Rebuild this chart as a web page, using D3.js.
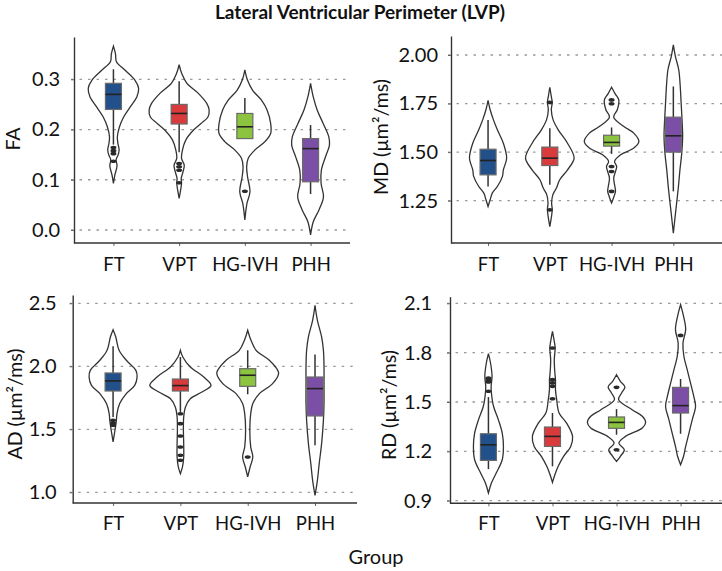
<!DOCTYPE html>
<html><head><meta charset="utf-8">
<script src="https://cdn.jsdelivr.net/npm/d3@7"></script>
<style>
body{margin:0;background:#fff;}
svg text{font-family:Lato,'Open Sans',sans-serif;fill:#111;}
</style></head>
<body><svg id="c" width="722" height="571"></svg>
<script>
// ---------- DATA ----------
const groups = ["FT", "VPT", "HG-IVH", "PHH"];
const groupColors = ["#22508a", "#d93b3d", "#8cc43f", "#7c4fa6"];

const faTicks = [0.0, 0.1, 0.2, 0.3];
const mdTicks = [1.25, 1.50, 1.75, 2.00];
const adTicks = [1.0, 1.5, 2.0, 2.5];
const rdTicks = [0.9, 1.2, 1.5, 1.8, 2.1];

// box stats: [lower whisker, q1, median, q3, upper whisker]
const faBoxes = [[0.170, 0.240, 0.270, 0.292, 0.320], [0.155, 0.211, 0.232, 0.250, 0.296], [0.181, 0.182, 0.2055, 0.232, 0.263], [0.0716, 0.096, 0.162, 0.182, 0.209]];
const mdBoxes = [[1.323, 1.383, 1.457, 1.515, 1.666], [1.332, 1.431, 1.469, 1.526, 1.623], [1.491, 1.531, 1.550, 1.587, 1.627], [1.298, 1.500, 1.584, 1.680, 1.838]];
const adBoxes = [[1.598, 1.804, 1.884, 1.947, 2.159], [1.638, 1.804, 1.847, 1.899, 2.074], [1.778, 1.841, 1.929, 1.981, 2.127], [1.373, 1.606, 1.823, 1.915, 2.093]];
const rdBoxes = [[1.092, 1.145, 1.240, 1.307, 1.530], [1.109, 1.230, 1.291, 1.348, 1.433], [1.301, 1.340, 1.376, 1.409, 1.457], [1.307, 1.433, 1.478, 1.589, 1.640]];

const faOutliers = [[0.164, 0.158, 0.152, 0.137], [0.1325, 0.126, 0.119, 0.094], [0.077], []];
const mdOutliers = [[], [1.756, 1.203], [1.769, 1.749, 1.426, 1.400, 1.298], []];
const adOutliers = [[1.571, 1.550, 1.532], [1.624, 1.545, 1.447, 1.360, 1.294, 1.254], [1.280], []];
const rdOutliers = [[1.565, 1.622, 1.636, 1.645], [1.828, 1.636, 1.616, 1.595, 1.520], [1.589, 1.210], [1.905]];

// violin profiles: [value, relative density]
const faViolins = [
  [[0.093,0],[0.11,0.05],[0.128,0.12],[0.14,0.09],[0.15,0.16],[0.16,0.19],[0.172,0.15],[0.185,0.13],[0.205,0.20],[0.225,0.34],[0.245,0.56],[0.265,0.78],[0.282,0.84],[0.298,0.72],[0.318,0.39],[0.335,0.10],[0.35,0.07],[0.366,0]],
  [[0.063,0],[0.08,0.05],[0.093,0.08],[0.103,0.07],[0.116,0.13],[0.129,0.17],[0.1425,0.08],[0.159,0.11],[0.179,0.22],[0.199,0.48],[0.212,0.73],[0.225,0.96],[0.239,1.00],[0.252,0.92],[0.272,0.64],[0.292,0.26],[0.311,0.09],[0.329,0]],
  [[0.020,0],[0.053,0.07],[0.076,0.17],[0.106,0.09],[0.126,0.06],[0.1425,0.11],[0.159,0.33],[0.176,0.67],[0.192,0.86],[0.212,0.86],[0.239,0.74],[0.258,0.56],[0.278,0.26],[0.298,0.09],[0.319,0]],
  [[-0.01,0],[0.0165,0.09],[0.040,0.28],[0.066,0.43],[0.093,0.35],[0.119,0.36],[0.146,0.50],[0.169,0.63],[0.185,0.61],[0.212,0.42],[0.239,0.22],[0.265,0.09],[0.292,0]]
];
const mdViolins = [
  [[1.22,0],[1.255,0.07],[1.289,0.14],[1.323,0.31],[1.375,0.48],[1.409,0.51],[1.469,0.62],[1.546,0.51],[1.615,0.31],[1.666,0.18],[1.718,0.07],[1.766,0]],
  [[1.117,0],[1.203,0.08],[1.238,0.06],[1.28,0.10],[1.315,0.22],[1.358,0.33],[1.409,0.59],[1.469,0.81],[1.546,0.59],[1.615,0.28],[1.666,0.11],[1.718,0.05],[1.756,0.08],[1.786,0.05],[1.834,0]],
  [[1.238,0],[1.272,0.08],[1.298,0.13],[1.323,0.11],[1.366,0.07],[1.40,0.13],[1.426,0.17],[1.452,0.10],[1.486,0.30],[1.521,0.74],[1.555,0.91],[1.598,0.74],[1.632,0.41],[1.68,0.07],[1.718,0.19],[1.769,0.24],[1.80,0.12],[1.834,0]],
  [[1.083,0],[1.169,0.06],[1.238,0.11],[1.323,0.17],[1.409,0.22],[1.495,0.28],[1.581,0.31],[1.666,0.29],[1.752,0.26],[1.838,0.23],[1.924,0.18],[1.992,0.07],[2.052,0]]
];
const adViolins = [
  [[1.40,0],[1.519,0.08],[1.571,0.11],[1.624,0.13],[1.704,0.22],[1.783,0.44],[1.849,0.72],[1.915,0.80],[1.968,0.76],[2.048,0.44],[2.127,0.20],[2.233,0.09],[2.291,0]],
  [[1.148,0],[1.201,0.07],[1.28,0.11],[1.386,0.11],[1.492,0.10],[1.598,0.11],[1.677,0.17],[1.743,0.33],[1.796,0.72],[1.849,1.02],[1.915,0.78],[1.995,0.33],[2.074,0.08],[2.127,0]],
  [[1.122,0],[1.201,0.08],[1.28,0.17],[1.36,0.10],[1.492,0.07],[1.624,0.10],[1.704,0.17],[1.783,0.39],[1.862,0.83],[1.942,1.03],[1.968,1.00],[2.048,0.72],[2.127,0.28],[2.206,0.11],[2.286,0]],
  [[0.976,0],[1.095,0.08],[1.228,0.14],[1.386,0.22],[1.571,0.28],[1.704,0.30],[1.862,0.30],[1.995,0.30],[2.127,0.28],[2.233,0.22],[2.365,0.08],[2.484,0]]
];
const rdViolins = [
  [[0.947,0],[1.007,0.10],[1.068,0.26],[1.149,0.46],[1.23,0.50],[1.311,0.46],[1.393,0.33],[1.474,0.17],[1.555,0.10],[1.595,0.09],[1.656,0.12],[1.737,0.07],[1.794,0]],
  [[1.011,0],[1.058,0.08],[1.109,0.19],[1.17,0.37],[1.23,0.61],[1.291,0.67],[1.372,0.47],[1.433,0.22],[1.514,0.14],[1.575,0.10],[1.636,0.10],[1.676,0.08],[1.757,0.06],[1.828,0.09],[1.869,0.06],[1.93,0]],
  [[1.139,0],[1.17,0.13],[1.21,0.26],[1.25,0.08],[1.291,0.30],[1.342,0.86],[1.376,0.97],[1.413,0.86],[1.453,0.52],[1.514,0.07],[1.555,0.17],[1.591,0.28],[1.626,0.13],[1.666,0]],
  [[1.119,0],[1.17,0.10],[1.23,0.17],[1.311,0.28],[1.393,0.39],[1.474,0.50],[1.534,0.44],[1.616,0.33],[1.697,0.22],[1.778,0.11],[1.859,0.08],[1.94,0.17],[2.021,0.10],[2.092,0]]
];

const titleText = "Lateral Ventricular Perimeter (LVP)";
const xTitle = "Group";

// ---------- LAYOUT ----------
const panels = [
  {label:"FA", ticks:faTicks, fmt:d3.format(".1f"), boxes:faBoxes, outliers:faOutliers, violins:faViolins,
   ax:74, xr:[74,350], lineEnd:350, top:37, bottom:243, ref:[0.0,230,0.3,79.3], tickOff:14, ylab:[12,139], xlabY:271},
  {label:"MD (µm²/ms)", ticks:mdTicks, fmt:d3.format(".2f"), boxes:mdBoxes, outliers:mdOutliers, violins:mdViolins,
   ax:451, xr:[451,710.4], lineEnd:722, top:36, bottom:243, ref:[1.25,200.7,2.0,55], tickOff:13, ylab:[380,137], xlabY:271},
  {label:"AD (µm²/ms)", ticks:adTicks, fmt:d3.format(".1f"), boxes:adBoxes, outliers:adOutliers, violins:adViolins,
   ax:72.7, xr:[72.7,355.4], lineEnd:357, top:295, bottom:503, ref:[1.0,492.3,2.5,303.3], tickOff:16, ylab:[14,404], xlabY:530},
  {label:"RD (µm²/ms)", ticks:rdTicks, fmt:d3.format(".1f"), boxes:rdBoxes, outliers:rdOutliers, violins:rdViolins,
   ax:450, xr:[450,719], lineEnd:722, top:296.7, bottom:503.3, ref:[0.9,500.7,2.1,303.3], tickOff:18, ylab:[388,405], xlabY:530}
];

const svg = d3.select("#c");
const wScale = d3.scaleLinear().domain([0,1]).range([0,30]);
const boxW = 16;

panels.forEach(p => {
  const g = svg.append("g");
  const y0 = d3.scaleLinear().domain([p.ref[0], p.ref[2]]).range([p.ref[1], p.ref[3]]);
  const y = d3.scaleLinear().domain([y0.invert(p.bottom), y0.invert(p.top)]).range([p.bottom, p.top]);
  const x = d3.scalePoint().domain(groups).range(p.xr).padding(0.6);

  g.selectAll(".grid").data(p.ticks).join("line")
    .attr("x1", p.ax - 3).attr("x2", p.lineEnd)
    .attr("y1", d => y(d)).attr("y2", d => y(d))
    .attr("stroke", "#9a9a9a").attr("stroke-width", 1.3).attr("stroke-dasharray", "2.5,6");

  const yAxis = d3.axisLeft(y).tickValues(p.ticks).tickFormat(p.fmt).tickSizeInner(3).tickSizeOuter(0).tickPadding(p.tickOff - 3);
  const ya = g.append("g").attr("transform", `translate(${p.ax},0)`).call(yAxis);
  ya.select(".domain").attr("stroke", "#333").attr("stroke-width", 1.4);
  ya.selectAll(".tick line").attr("stroke", "#666");
  ya.selectAll(".tick text").attr("font-size", 20).attr("fill", "#111");

  const xAxis = d3.axisBottom(x).tickSizeInner(3).tickSizeOuter(0).tickPadding(0);
  const xa = g.append("g").attr("transform", `translate(0,${p.bottom})`).call(xAxis);
  xa.select(".domain").remove();
  xa.selectAll(".tick line").attr("stroke", "#666");
  xa.selectAll(".tick text").attr("font-size", 18.5).attr("fill", "#111")
    .attr("dy", null).attr("y", p.xlabY - p.bottom);
  g.append("line").attr("x1", p.ax).attr("x2", p.lineEnd).attr("y1", p.bottom).attr("y2", p.bottom)
    .attr("stroke", "#333").attr("stroke-width", 1.4);

  g.append("text").attr("transform", `translate(${p.ylab[0]},${p.ylab[1]}) rotate(-90)`)
    .attr("text-anchor", "middle").attr("dominant-baseline", "central")
    .attr("font-size", 19.5).text(p.label);

  groups.forEach((grp, i) => {
    const cx = x(grp);
    const area = d3.area().curve(d3.curveCatmullRom.alpha(0.5))
      .y(d => y(d[0])).x0(d => cx - wScale(d[1])).x1(d => cx + wScale(d[1]));
    g.append("path").attr("d", area(p.violins[i]))
      .attr("fill", "none").attr("stroke", "#333").attr("stroke-width", 1.3);
    const b = p.boxes[i];
    g.append("line").attr("x1", cx).attr("x2", cx).attr("y1", y(b[0])).attr("y2", y(b[4]))
      .attr("stroke", "#333").attr("stroke-width", 1.5);
    g.append("rect").attr("x", cx - boxW/2).attr("width", boxW)
      .attr("y", y(b[3])).attr("height", y(b[1]) - y(b[3]))
      .attr("fill", groupColors[i]).attr("stroke", "#6a6a6a").attr("stroke-width", 1.2);
    g.append("line").attr("x1", cx - boxW/2).attr("x2", cx + boxW/2).attr("y1", y(b[2])).attr("y2", y(b[2]))
      .attr("stroke", "#222").attr("stroke-width", 1.6);
    g.selectAll(null).data(p.outliers[i]).join("ellipse")
      .attr("cx", cx).attr("cy", d => y(d)).attr("rx", 3).attr("ry", 1.8).attr("fill", "#2a2a2a");
  });
});

svg.append("text").attr("x", 360).attr("y", 19).attr("text-anchor", "middle")
  .attr("font-size", 19).attr("font-weight", "bold").text(titleText);
svg.append("text").attr("x", 376).attr("y", 564).attr("text-anchor", "middle")
  .attr("font-size", 20).text(xTitle);
</script></body></html>
